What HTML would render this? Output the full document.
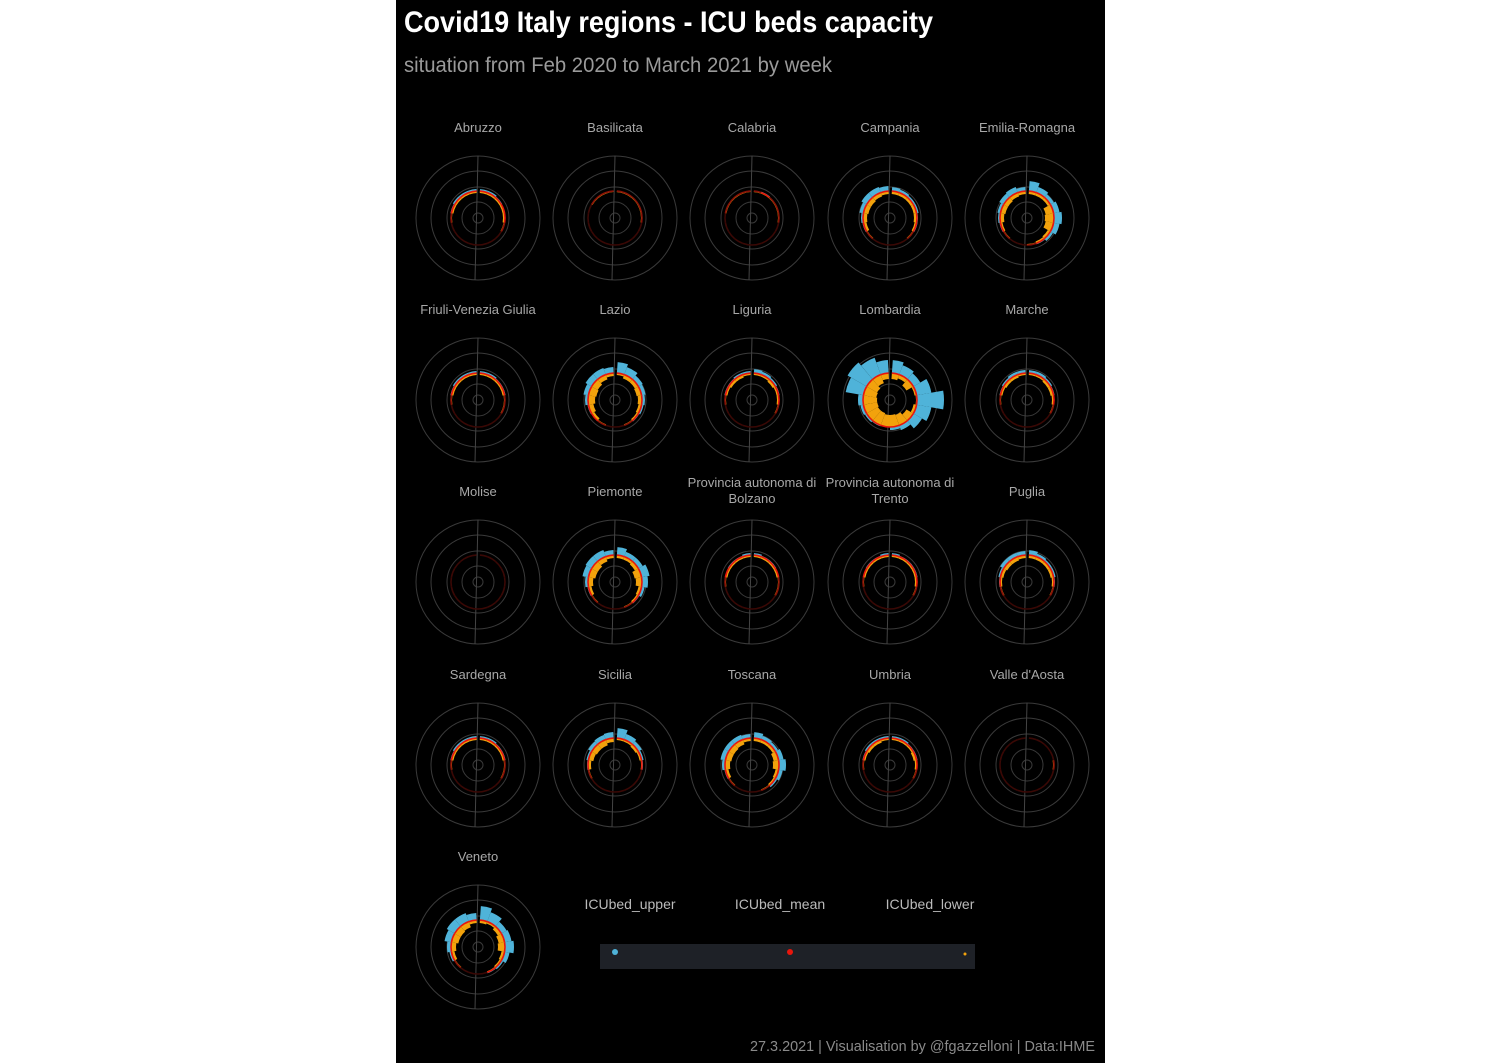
<!DOCTYPE html>
<html><head><meta charset="utf-8">
<style>
html,body{margin:0;padding:0;background:#fff;}
svg{display:block;}
text{font-family:"Liberation Sans",sans-serif;}
</style></head>
<body>
<svg id="chart" width="1500" height="1063" viewBox="0 0 1500 1063">
<rect x="396" y="0" width="709" height="1063" fill="#000"/>
<text x="404" y="32" font-size="30" font-weight="bold" fill="#fff" textLength="529" lengthAdjust="spacingAndGlyphs">Covid19 Italy regions - ICU beds capacity</text>
<text x="404" y="72" font-size="21" fill="#9a9a9a" textLength="428" lengthAdjust="spacingAndGlyphs">situation from Feb 2020 to March 2021 by week</text>
<g id="panels"></g>
<g>
<text x="630" y="909" font-size="14" fill="#bbb" text-anchor="middle">ICUbed_upper</text>
<text x="780" y="909" font-size="14" fill="#bbb" text-anchor="middle">ICUbed_mean</text>
<text x="930" y="909" font-size="14" fill="#bbb" text-anchor="middle">ICUbed_lower</text>
<rect x="600" y="944" width="375" height="25" fill="#1e2127"/>
<circle cx="615" cy="952" r="3" fill="#4fb3d9"/>
<circle cx="790" cy="952" r="3" fill="#e8160c"/>
<circle cx="965" cy="954" r="1.5" fill="#f2a20c"/>
</g>
<text x="1095" y="1051" font-size="15" fill="#8a8a8a" text-anchor="end" textLength="345" lengthAdjust="spacingAndGlyphs">27.3.2021  |  Visualisation by @fgazzelloni  |  Data:IHME</text>
</svg>
<script>
const regions = ["Abruzzo","Basilicata","Calabria","Campania","Emilia-Romagna","Friuli-Venezia Giulia","Lazio","Liguria","Lombardia","Marche","Molise","Piemonte","Provincia autonoma di|Bolzano","Provincia autonoma di|Trento","Puglia","Sardegna","Sicilia","Toscana","Umbria","Valle d'Aosta","Veneto"];
// upper excess over capacity ring, per 20-degree sector (clockwise from top)
const upperVals = [
[2,2,1,0,0,0,0,0,0,0,0,0,0,0,1,2,2,2],
[0,0,0,0,0,0,0,0,0,0,0,0,0,0,0,0,0,0],
[0,1,0,0,0,0,0,0,0,0,0,0,0,0,0,0,0,0],
[4,3,2,2,1,1,0,0,0,0,0,0,1,2,4,6,6,5],
[10,6,4,6,8,6,3,1,0,0,0,0,1,2,3,5,6,4],
[2,2,1,1,0,0,0,0,0,0,0,0,0,0,1,2,2,2],
[11,8,5,4,3,2,1,0,0,0,0,0,1,3,5,7,7,6],
[4,3,2,1,0,0,0,0,0,0,0,0,0,0,1,1,2,2],
[13,10,8,15,27,15,10,5,3,0,1,2,3,5,18,22,18,13],
[3,3,2,1,0,0,0,0,0,0,0,0,0,0,1,2,3,3],
[0,0,0,0,0,0,0,0,0,0,0,0,0,0,0,0,0,0],
[8,5,5,8,6,3,1,0,0,0,0,0,1,3,6,7,7,5],
[2,1,1,0,0,0,0,0,0,0,0,0,0,0,0,1,1,2],
[2,1,1,1,0,0,0,0,0,0,0,0,0,0,0,1,1,2],
[5,3,2,2,1,0,0,0,0,0,0,0,0,1,2,4,4,4],
[2,2,1,1,0,0,0,0,0,0,0,0,0,0,1,2,2,2],
[10,6,4,2,1,0,0,0,0,0,0,0,0,1,2,4,5,6],
[6,4,3,5,7,4,2,0,0,0,0,0,1,3,5,5,5,4],
[2,2,1,1,0,0,0,0,0,0,0,0,0,0,1,2,2,2],
[0,0,0,0,0,0,0,0,0,0,0,0,0,0,0,0,0,0],
[14,10,6,7,9,5,2,1,0,0,0,0,2,4,7,9,9,7]];
// lower depth below capacity ring, per sector
const lowerVals = [
[2,2,2,2,2,1,0,0,0,0,0,0,0,1,2,2,2,2],
[1,1,1,1,1,0,0,0,0,0,0,0,0,0,0,1,1,1],
[1,1,1,1,1,0,0,0,0,0,0,0,0,0,1,1,1,1],
[3,3,3,3,3,2,1,0,0,0,0,1,3,4,5,5,4,3],
[3,3,3,8,9,8,3,2,1,0,0,1,2,4,5,5,4,3],
[2,2,2,2,1,1,0,0,0,0,0,0,0,1,2,2,2,2],
[2,4,4,5,4,3,2,1,0,0,1,3,5,7,8,7,5,3],
[2,2,3,2,2,1,0,0,0,0,0,0,0,1,2,3,3,2],
[6,4,8,2,1,3,8,11,12,12,13,13,14,14,13,12,9,6],
[2,2,3,3,2,1,0,0,0,0,0,0,0,1,2,3,3,2],
[0,0,0,0,0,0,0,0,0,0,0,0,0,0,0,0,0,0],
[3,3,4,7,6,3,2,1,0,0,0,1,3,5,7,7,5,3],
[2,2,2,2,1,1,0,0,0,0,0,0,0,1,2,2,2,2],
[2,2,2,2,2,1,0,0,0,0,0,0,0,1,2,2,2,2],
[3,3,3,3,2,1,0,0,0,0,0,0,1,2,3,4,4,3],
[2,2,2,2,1,1,0,0,0,0,0,0,0,1,2,2,2,2],
[2,2,3,2,1,0,0,0,0,0,0,0,1,3,5,6,6,4],
[3,3,3,5,6,3,2,1,0,0,0,1,3,5,6,6,5,3],
[2,2,2,3,2,1,0,0,0,0,0,0,0,1,2,3,3,2],
[0,0,0,0,1,0,0,0,0,0,0,0,0,0,0,0,0,0],
[3,2,4,6,7,3,2,1,0,0,0,1,3,5,7,7,6,3]];
const gridTicks = [0,1,2,3,4];

const NS = "http://www.w3.org/2000/svg";
const R0 = 27, sectorDeg = 20;
function rScale(v){ return R0 + v; }
function angleScale(i){ return i * sectorDeg; }
function pt(cx, cy, r, deg){ const a = (deg - 90) * Math.PI / 180; return [cx + r * Math.cos(a), cy + r * Math.sin(a)]; }
function wedge(cx, cy, r1, r2, a1, a2){
  const p1 = pt(cx,cy,r2,a1), p2 = pt(cx,cy,r2,a2), p3 = pt(cx,cy,r1,a2), p4 = pt(cx,cy,r1,a1);
  return `M${p1[0]},${p1[1]}A${r2},${r2} 0 0 1 ${p2[0]},${p2[1]}L${p3[0]},${p3[1]}A${r1},${r1} 0 0 0 ${p4[0]},${p4[1]}Z`;
}
function arc(cx, cy, r, a1, a2){
  const p1 = pt(cx,cy,r,a1), p2 = pt(cx,cy,r,a2);
  return `M${p1[0]},${p1[1]}A${r},${r} 0 0 1 ${p2[0]},${p2[1]}`;
}
const gridR = [5, 16, 31, 47, 62];
const colX = [478, 615, 752, 890, 1027];
const rowY = [218, 400, 582, 765, 947];
const panels = document.getElementById('panels');
regions.forEach((name, k) => {
  const cx = colX[k % 5], cy = rowY[Math.floor(k / 5)];
  const g = document.createElementNS(NS, 'g');
  
  
  panels.appendChild(g);
  const lines = name.split('|');
  lines.forEach((ln, j) => {
    const t = document.createElementNS(NS, 'text');
    
    
    t.setAttribute('x', cx);
    t.setAttribute('y', cy - 86 + (lines.length === 2 ? (j * 16 - 9) : 0));
    t.setAttribute('font-size', '13');
    t.setAttribute('fill', '#a8a8a8');
    t.setAttribute('text-anchor', 'middle');
    t.textContent = ln;
    g.appendChild(t);
  });
  gridTicks.forEach(i => {
    const c = document.createElementNS(NS, 'circle');
    
    
    c.setAttribute('cx', cx); c.setAttribute('cy', cy); c.setAttribute('r', gridR[i]);
    c.setAttribute('fill', 'none'); c.setAttribute('stroke', '#3a3a3a'); c.setAttribute('stroke-width', '1');
    g.appendChild(c);
  });
  const ax = document.createElementNS(NS, 'line');
  
  
  ax.setAttribute('x1', cx); ax.setAttribute('y1', cy - 62); ax.setAttribute('x2', cx - 3); ax.setAttribute('y2', cy + 62);
  ax.setAttribute('stroke', '#444'); ax.setAttribute('stroke-width', '1');
  g.appendChild(ax);
  const up = upperVals[k], lo = lowerVals[k];
  up.forEach((v, i) => {
    let a1 = angleScale(i), a2 = angleScale(i + 1);
    if (i === 0) a1 += 4;
    if (i === up.length - 1) a2 -= 3;
    if (v > 0) {
      const b = document.createElementNS(NS, 'path');
      
      
      b.setAttribute('d', wedge(cx, cy, rScale(0), rScale(v), a1, a2));
      b.setAttribute('fill', '#4fb3d9');
      g.appendChild(b);
    }
    const lv = lo[i];
    if (lv > 0) {
      const o = document.createElementNS(NS, 'path');
      
      
      o.setAttribute('d', wedge(cx, cy, rScale(-lv), rScale(0), a1, a2));
      o.setAttribute('fill', '#f2a20c');
      g.appendChild(o);
    }
    const tot = v + lv;
    const m = document.createElementNS(NS, 'path');
    
    
    m.setAttribute('d', arc(cx, cy, rScale(0), a1, a2));
    m.setAttribute('fill', 'none');
    m.setAttribute('stroke', tot >= 2 ? '#e8160c' : (tot >= 1 ? '#8a1208' : '#3a0805'));
    m.setAttribute('stroke-width', '1.6');
    g.appendChild(m);
  });
});
</script>
</body></html>
